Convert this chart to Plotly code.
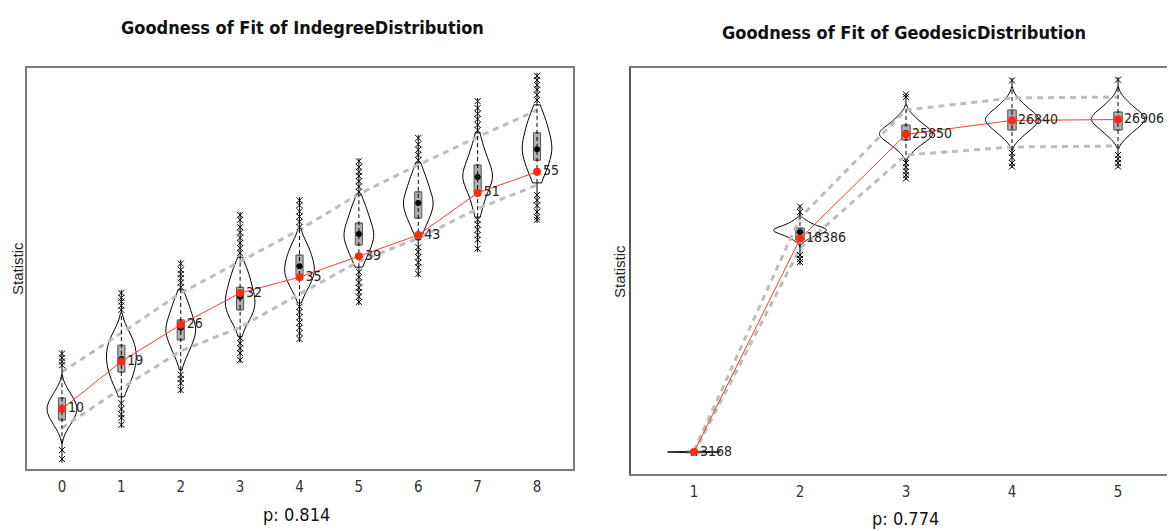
import plotly.graph_objects as go

# ---------------- data: left panel (indegree) ----------------
in_cats = [0, 1, 2, 3, 4, 5, 6, 7, 8]
in_obs = [10, 19, 26, 32, 35, 39, 43, 51, 55]
in_q1 = [7.9, 17.0, 23.1, 28.8, 35.4, 41.1, 46.2, 51.2, 57.2]
in_med = [10.0, 19.5, 25.4, 31.3, 37.1, 43.2, 49.1, 54.0, 59.3]
in_q3 = [12.1, 22.1, 26.9, 33.1, 39.2, 45.3, 51.2, 56.3, 62.4]
in_vlo = [3.5, 12.3, 17.4, 23.7, 30.1, 36.9, 42.1, 46.4, 52.9]
in_vhi = [16.5, 28.2, 32.6, 38.8, 44.0, 50.6, 56.7, 62.4, 67.7]
in_wlo = [-0.2, 6.4, 13.0, 18.7, 22.7, 29.7, 35.0, 39.8, 45.3]
in_whi = [21.2, 32.6, 38.3, 47.4, 50.2, 57.6, 62.0, 69.0, 73.8]
in_ci_hi = [17.0, 24.4, 32.0, 38.0, 44.0, 50.8, 56.3, 61.6, 66.7]
in_ci_lo = [6.4, 13.9, 21.0, 25.5, 31.8, 38.0, 42.4, 48.0, 52.5]
in_samples = [
    [6, 7, 8, 8, 9, 9, 10, 10, 10, 11, 11, 12, 12, 13, 14],
    [14, 15, 16, 17, 18, 18, 19, 20, 20, 21, 22, 22, 23, 24, 25],
    [20, 21, 22, 23, 24, 24, 25, 25, 26, 26, 27, 28, 29, 30, 31],
    [26, 27, 28, 29, 29, 30, 30, 31, 32, 32, 33, 34, 35, 36, 37],
    [32, 33, 34, 35, 35, 36, 36, 37, 37, 38, 39, 39, 40, 41, 42],
    [38, 39, 40, 41, 42, 42, 43, 43, 44, 44, 45, 46, 47, 48, 49],
    [44, 45, 46, 47, 48, 48, 49, 49, 50, 50, 51, 52, 53, 54, 55],
    [48, 49, 51, 52, 53, 53, 54, 54, 55, 55, 56, 57, 58, 59, 61],
    [54, 55, 56, 57, 58, 59, 59, 60, 60, 61, 62, 63, 64, 65, 66],
]
in_outliers = [
    [18.3, 19.0, 19.7, 20.5, 2.2, 0.5],
    [28.8, 29.6, 30.4, 31.1, 32.0, 11.1, 10.0, 9.0, 8.3, 7.0],
    [33.1, 34.0, 34.8, 35.6, 36.4, 37.6, 16.5, 15.7, 14.9, 13.6],
    [39.6, 40.5, 41.5, 42.5, 43.5, 44.5, 45.9, 46.8, 23.5, 22.5, 21.5, 20.6, 19.3],
    [44.5, 45.5, 46.5, 47.5, 48.7, 49.6, 29.4, 28.4, 27.4, 26.4, 25.4, 24.4, 23.3],
    [51.2, 52.2, 53.2, 54.2, 55.0, 55.9, 57.0, 36.0, 35.0, 34.0, 33.0, 32.2, 31.3, 30.3],
    [57.2, 58.2, 59.2, 60.2, 61.4, 40.7, 39.8, 38.8, 37.8, 36.9, 35.6],
    [62.9, 63.9, 65.0, 66.0, 67.1, 68.4, 45.9, 45.0, 44.0, 43.0, 42.1, 40.4],
    [68.6, 69.6, 70.6, 71.5, 72.4, 73.2, 50.6, 49.6, 48.6, 47.4, 46.4, 45.9],
]
in_p = "p: 0.814"

# ---------------- data: right panel (geodesic) ----------------
ge_cats = [1, 2, 3, 4, 5]
ge_obs = [3168, 18386, 25850, 26840, 26906]
ge_q1 = [3140, 18305, 25445, 26159, 26159]
ge_med = [3168, 18876, 25950, 26900, 26950]
ge_q3 = [3195, 19162, 26516, 27587, 27444]
ge_vlo = [3060, 17805, 23874, 24731, 24874]
ge_vhi = [3280, 20233, 27944, 29229, 29229]
ge_wlo = [3000, 16520, 22589, 23446, 23446]
ge_whi = [3300, 20804, 28801, 29872, 29944]
ge_ci_hi = [3250, 19900, 27587, 28444, 28515]
ge_ci_lo = [3090, 17700, 24374, 24945, 25016]
ge_samples = [
    [3120, 3140, 3150, 3160, 3165, 3170, 3175, 3180, 3190, 3210],
    [18300, 18500, 18650, 18750, 18850, 18900, 18950, 19000, 19050, 19100, 19150, 19250, 19350, 19500, 19700],
    [24700, 25000, 25250, 25450, 25600, 25700, 25800, 25900, 26000, 26100, 26250, 26400, 26600, 26850, 27200],
    [25600, 25900, 26150, 26350, 26550, 26700, 26800, 26900, 27000, 27100, 27250, 27450, 27650, 27900, 28300],
    [25650, 25950, 26200, 26400, 26600, 26750, 26850, 26950, 27050, 27150, 27300, 27500, 27700, 27950, 28350],
]
ge_outliers = [
    [3100],
    [20304, 20700, 17234, 16950, 16734],
    [28515, 28700, 23803, 23500, 23200, 22946, 22700],
    [29700, 24517, 24200, 23803, 23550],
    [29750, 24374, 24100, 23803, 23550],
]
ge_p = "p: 0.774"

W, H = 1175, 531
OFF = 8  # page body margin of the html page
COND = "DejaVu Sans Condensed, DejaVu Sans, sans-serif"
REG = "Liberation Sans, Arial, sans-serif"

fig = go.Figure()


def add_panel(cats, obs, q1, med, q3, vlo, vhi, wlo, whi, cihi, cilo, samples, outl,
              xa, ya, vwidth, bwidth):
    # grey dashed envelope lines
    for ci in (cihi, cilo):
        fig.add_trace(go.Scatter(x=cats, y=ci, mode="lines", xaxis=xa, yaxis=ya,
                                 line=dict(color="#bdbdbd", width=3, dash="6px,5px"),
                                 hoverinfo="skip", showlegend=False))
    # violins
    for c, s, lo, hi in zip(cats, samples, vlo, vhi):
        fig.add_trace(go.Violin(y=s, x0=c, xaxis=xa, yaxis=ya, width=vwidth,
                                spanmode="manual", span=[lo, hi], points=False,
                                box_visible=False, meanline_visible=False,
                                line=dict(color="black", width=1),
                                fillcolor="rgba(0,0,0,0)", showlegend=False,
                                hoverinfo="skip"))
    # whiskers: dashed inside violin, solid outside
    dx, dy, sx, sy = [], [], [], []
    for c, a, b, lo, hi in zip(cats, vlo, vhi, wlo, whi):
        dx += [c, c, None]
        dy += [a, b, None]
        sx += [c, c, None, c, c, None]
        sy += [lo, a, None, b, hi, None]
    fig.add_trace(go.Scatter(x=dx, y=dy, mode="lines", xaxis=xa, yaxis=ya,
                             line=dict(color="black", width=1, dash="4px,3px"),
                             hoverinfo="skip", showlegend=False))
    fig.add_trace(go.Scatter(x=sx, y=sy, mode="lines", xaxis=xa, yaxis=ya,
                             line=dict(color="black", width=1),
                             hoverinfo="skip", showlegend=False))
    # boxes
    fig.add_trace(go.Box(x=cats, q1=q1, median=med, q3=q3, lowerfence=q1, upperfence=q3,
                         xaxis=xa, yaxis=ya, width=bwidth, boxpoints=False,
                         fillcolor="#b0b0b0", line=dict(color="#555555", width=1),
                         showlegend=False, hoverinfo="skip"))
    # outliers
    ox, oy = [], []
    for c, vals in zip(cats, outl):
        ox += [c] * len(vals)
        oy += vals
    fig.add_trace(go.Scatter(x=ox, y=oy, mode="markers", xaxis=xa, yaxis=ya,
                             marker=dict(symbol="x-thin", size=6,
                                         line=dict(color="black", width=1)),
                             hoverinfo="skip", showlegend=False))
    # medians
    fig.add_trace(go.Scatter(x=cats, y=med, mode="markers", xaxis=xa, yaxis=ya,
                             marker=dict(symbol="circle", size=6, color="black"),
                             hoverinfo="skip", showlegend=False))
    # observed
    fig.add_trace(go.Scatter(x=cats, y=obs, mode="lines+markers+text", xaxis=xa, yaxis=ya,
                             text=[str(v) for v in obs], textposition="middle right",
                             textfont=dict(family=COND, size=14, color="#222222"),
                             line=dict(color="#ff3b2a", width=1),
                             marker=dict(size=8, color="#ff2a10"),
                             hoverinfo="skip", showlegend=False))


add_panel(in_cats, in_obs, in_q1, in_med, in_q3, in_vlo, in_vhi, in_wlo, in_whi,
          in_ci_hi, in_ci_lo, in_samples, in_outliers, "x", "y", 0.5, 0.12)
add_panel(ge_cats, ge_obs, ge_q1, ge_med, ge_q3, ge_vlo, ge_vhi, ge_wlo, ge_whi,
          ge_ci_hi, ge_ci_lo, ge_samples, ge_outliers, "x2", "y2", 0.5, 0.08)


def px(x):
    return (x - OFF) / W


def py(y):
    return (H - (y - OFF)) / H


frame = "#7a7a7a"
tickfont = dict(family=COND, size=15, color="#333333")
fig.update_layout(
    width=W, height=H, margin=dict(l=0, r=0, t=0, b=0),
    paper_bgcolor="white", plot_bgcolor="white",
    violinmode="overlay", boxmode="overlay", showlegend=False,
    xaxis=dict(domain=[px(27), px(573)], range=[-0.589, 8.606], tickmode="array",
               tickvals=in_cats, ticktext=[str(c) for c in in_cats], tickfont=tickfont,
               showgrid=False, zeroline=False, showline=True, mirror=True,
               linecolor=frame, linewidth=1.5, ticks="", anchor="y",
               ticklabelstandoff=3),
    yaxis=dict(domain=[py(469), py(68)], range=[-1.39, 74.7],
               showticklabels=False, showgrid=False, zeroline=False, showline=True,
               mirror=True, linecolor=frame, linewidth=1.5, ticks="", anchor="x"),
    xaxis2=dict(domain=[px(631), 1.0], range=[0.406, 5.613], tickmode="array",
                tickvals=ge_cats, ticktext=[str(c) for c in ge_cats], tickfont=tickfont,
                showgrid=False, zeroline=False, showline=True, mirror=True,
                linecolor=frame, linewidth=1.5, ticks="", anchor="y2",
                ticklabelstandoff=3),
    yaxis2=dict(domain=[py(474), py(68)], range=[1597, 30586],
                showticklabels=False, showgrid=False, zeroline=False, showline=True,
                mirror=False, linecolor="#555555", linewidth=1.5, ticks="", anchor="x2"),
)

ann = [
    dict(text="<b>Goodness of Fit of IndegreeDistribution</b>", x=px(302), y=py(27),
         font=dict(family=COND, size=18, color="#111111")),
    dict(text="<b>Goodness of Fit of GeodesicDistribution</b>", x=px(904), y=py(32),
         font=dict(family=COND, size=18, color="#111111")),
    dict(text="Statistic", x=px(17), y=py(269), textangle=-90,
         font=dict(family=REG, size=15, color="#222222")),
    dict(text="Statistic", x=px(619), y=py(272), textangle=-90,
         font=dict(family=REG, size=15, color="#222222")),
    dict(text=in_p, x=px(296), y=py(514),
         font=dict(family=COND, size=18, color="#111111")),
    dict(text=ge_p, x=px(905), y=py(518),
         font=dict(family=COND, size=18, color="#111111")),
]
for a in ann:
    fig.add_annotation(xref="paper", yref="paper", showarrow=False,
                       xanchor="center", yanchor="middle", **a)

fig.write_html("out.html")
